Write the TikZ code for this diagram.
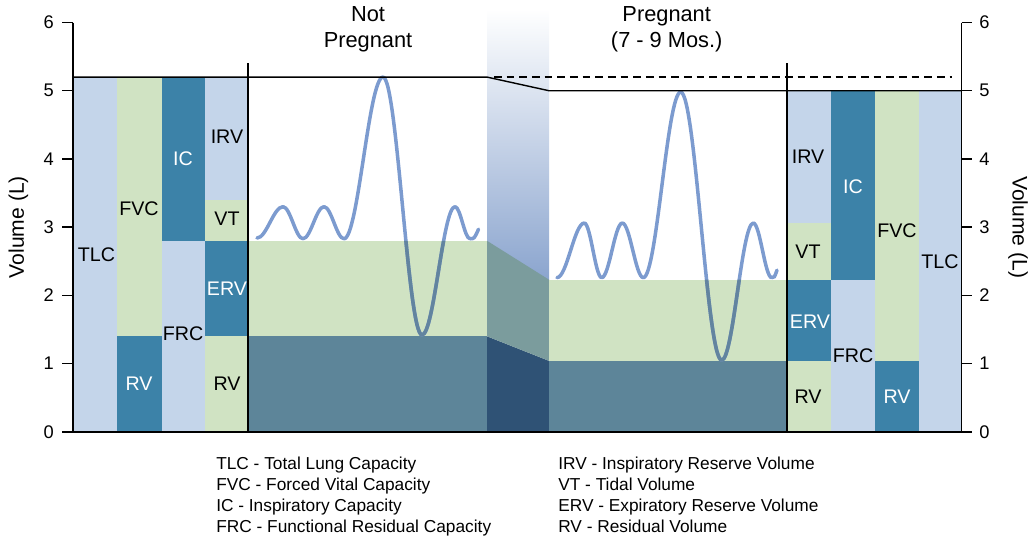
\documentclass[tikz,border=0pt]{standalone}
\usepackage{fontspec}
\setmainfont{Liberation Sans}
\usepackage{xcolor}
\usetikzlibrary{positioning}

\definecolor{lungblue}{HTML}{C4D5EA}
\definecolor{lunggreen}{HTML}{D0E3C3}
\definecolor{lungdark}{HTML}{3C82A8}
\definecolor{lungsteel}{HTML}{5D8599}
\definecolor{wavelight}{HTML}{7C9BCF}
\definecolor{wavedark}{HTML}{62849F}
\definecolor{bandtop}{HTML}{8AA4CE}
\definecolor{bandgreen}{HTML}{7B9C9D}
\definecolor{banddeep}{HTML}{2F5275}

% breathing traces, one half-cosine per step
\newcommand{\breathtrace}[1]{%
  \foreach \xa/\ya/\xb/\yb in {257/2.84/283/3.3, 283/3.3/303/2.83, 303/2.83/324/3.3,
      324/3.3/344/2.83, 344/2.83/383/5.2, 383/5.2/422/1.42, 422/1.42/455/3.3,
      455/3.3/470/2.83, 557/2.26/584.3/3.06, 584.3/3.06/601.7/2.26,
      601.7/2.26/622.3/3.06, 622.3/3.06/643.3/2.26, 643.3/2.26/680.7/4.98,
      680.7/4.98/721.7/1.05, 721.7/1.05/753.3/3.06, 753.3/3.06/771.7/2.26}
    \draw[#1] (\xa,\ya) .. controls ({\xa+0.364*(\xb-\xa)},\ya)
      and ({\xb-0.364*(\xb-\xa)},\yb) .. (\xb,\yb);
  \foreach \xa/\ya/\xb/\yb in {470/2.83/478.5/2.97, 771.7/2.26/777/2.37}
    \draw[#1] (\xa,\ya) .. controls ({0.5*(\xa+\xb)},\ya) .. (\xb,\yb);
}

\begin{document}
\begin{tikzpicture}[x=0.025cm, y=1.705cm]
	\tikzstyle{lbl}
	  =[font=\fontsize{14}{16}\selectfont, inner sep=0pt]
	\tikzstyle{lbl_w}
	  =[lbl, text=white]
	\tikzstyle{ticklbl}
	  =[font=\fontsize{13}{15}\selectfont, inner sep=0pt]
	\tikzstyle{title}
	  =[font=\fontsize{15.5}{19}\selectfont, align=center, inner sep=0pt]
	\tikzstyle{legend}
	  =[font=\fontsize{12.3}{14}\selectfont, inner sep=0pt,
	  text height=0.36cm, text depth=0.1475cm, anchor=base west]
	\tikzstyle{wave}
	  =[line width=2.5pt, line cap=round]
	\tikzstyle{rule}
	  =[line width=1pt]

	\useasboundingbox (0,-1.529) rectangle (1033,6.33);

	% transition band
	\shade[top color=white, bottom color=bandtop] (487,2.2) rectangle (549,6.2);

	% not pregnant columns
	\fill[lungblue] (73,0) rectangle (117,5.2);
	\fill[lungdark] (117,0) rectangle (161.5,1.4);
	\fill[lunggreen] (117,1.4) rectangle (161.5,5.2);
	\fill[lungblue] (161.5,0) rectangle (205,2.8);
	\fill[lungdark] (161.5,2.8) rectangle (205,5.2);
	\fill[lunggreen] (205,0) rectangle (248,1.4);
	\fill[lungdark] (205,1.4) rectangle (248,2.8);
	\fill[lunggreen] (205,2.8) rectangle (248,3.4);
	\fill[lungblue] (205,3.4) rectangle (248,5.2);

	\fill[lungsteel] (248,0) rectangle (487,1.4);
	\fill[lunggreen] (248,1.4) rectangle (487,2.8);
	\fill[banddeep] (487,0) -- (487,1.4) -- (549,1.04) -- (549,0) -- cycle;
	\fill[bandgreen] (487,1.4) -- (487,2.8) -- (549,2.23) -- (549,1.04) -- cycle;
	\fill[lungsteel] (549,0) rectangle (787,1.04);
	\fill[lunggreen] (549,1.04) rectangle (787,2.23);

	% pregnant columns
	\fill[lungblue] (787,3.06) rectangle (831,5.0);
	\fill[lunggreen] (787,2.23) rectangle (831,3.06);
	\fill[lungdark] (787,1.04) rectangle (831,2.23);
	\fill[lunggreen] (787,0) rectangle (831,1.04);
	\fill[lungdark] (831,2.23) rectangle (875,5.0);
	\fill[lungblue] (831,0) rectangle (875,2.23);
	\fill[lunggreen] (875,1.04) rectangle (918.5,5.0);
	\fill[lungdark] (875,0) rectangle (918.5,1.04);
	\fill[lungblue] (918.5,0) rectangle (961.5,5.0);

	\breathtrace{wave, wavelight}
	\begin{scope}
	  \clip (248,0) rectangle (487,2.8) (549,0) rectangle (787,2.23);
	  \breathtrace{wave, wavedark}
	\end{scope}

	% axes and rules
	\draw[rule] (73,5.2) -- (487,5.2) -- (549,5.0) -- (961.5,5.0);
	\draw[rule, dash pattern=on 5.5pt off 3.5pt] (494,5.2) -- (952,5.2);
	\draw[rule] (248,5.4) -- (248,0);
	\draw[rule] (787,5.4) -- (787,0);
	\draw[rule] (73,6) -- (73,0);
	\draw[rule] (961.5,6) -- (961.5,0);
	\draw[rule] (62,0) -- (972,0);
	\foreach \v in {0,...,6} {
	  \draw[rule] (62,\v) -- (73,\v);
	  \draw[rule] (961.5,\v) -- (972,\v);
	  \node[ticklbl, anchor=east] (lt\v) at (54,\v) {\v};
	  \node[ticklbl, anchor=west] (rt\v) at (979,\v) {\v};
	}
	\node[lbl, font=\fontsize{15}{17}\selectfont, rotate=90] (ylab)
	  at (18.5,3.0) {Volume (L)};
	\node[lbl, font=\fontsize{15}{17}\selectfont, rotate=-90] (ylab2)
	  at (1018,3.0) {Volume (L)};

	\node[title] (np) at (368,5.9) {Not\\Pregnant};
	\node[title] (pg) at (666.7,5.9) {Pregnant\\(7 - 9 Mos.)};

	% labels, not pregnant
	\node[lbl] (tlc1) at (96.5,2.59) {TLC};
	\node[lbl] (fvc1) at (139,3.27) {FVC};
	\node[lbl_w] (ic1) at (183,4.0) {IC};
	\node[lbl] (irv1) at (227,4.33) {IRV};
	\node[lbl] (vt1) at (227,3.12) {VT};
	\node[lbl_w] (erv1) at (227,2.1) {ERV};
	\node[lbl] (frc1) at (183,1.44) {FRC};
	\node[lbl_w] (rva1) at (139,0.71) {RV};
	\node[lbl] (rvb1) at (227,0.71) {RV};

	% labels, pregnant
	\node[lbl] (irv2) at (808,4.03) {IRV};
	\node[lbl_w] (ic2) at (853,3.6) {IC};
	\node[lbl] (vt2) at (808,2.64) {VT};
	\node[lbl_w] (erv2) at (810,1.61) {ERV};
	\node[lbl] (frc2) at (853,1.11) {FRC};
	\node[lbl] (fvc2) at (897,2.95) {FVC};
	\node[lbl] (tlc2) at (940,2.49) {TLC};
	\node[lbl] (rva2) at (808,0.51) {RV};
	\node[lbl_w] (rvb2) at (897,0.51) {RV};

	% key
	\node[legend] (tlcdef) at (216,-0.555) {TLC - Total Lung Capacity};
	\node[legend] (fvcdef)
	  [below=0pt of tlcdef.south west, anchor=north west] {FVC - Forced Vital Capacity};
	\node[legend] (icdef)
	  [below=0pt of fvcdef.south west, anchor=north west] {IC - Inspiratory Capacity};
	\node[legend] (frcdef)
	  [below=0pt of icdef.south west, anchor=north west] {FRC - Functional Residual Capacity};
	\node[legend] (irvdef) at (558,-0.555) {IRV - Inspiratory Reserve Volume};
	\node[legend] (vtdef)
	  [below=0pt of irvdef.south west, anchor=north west] {VT - Tidal Volume};
	\node[legend] (ervdef)
	  [below=0pt of vtdef.south west, anchor=north west] {ERV - Expiratory Reserve Volume};
	\node[legend] (rvdef)
	  [below=0pt of ervdef.south west, anchor=north west] {RV - Residual Volume};
\end{tikzpicture}
\end{document}
